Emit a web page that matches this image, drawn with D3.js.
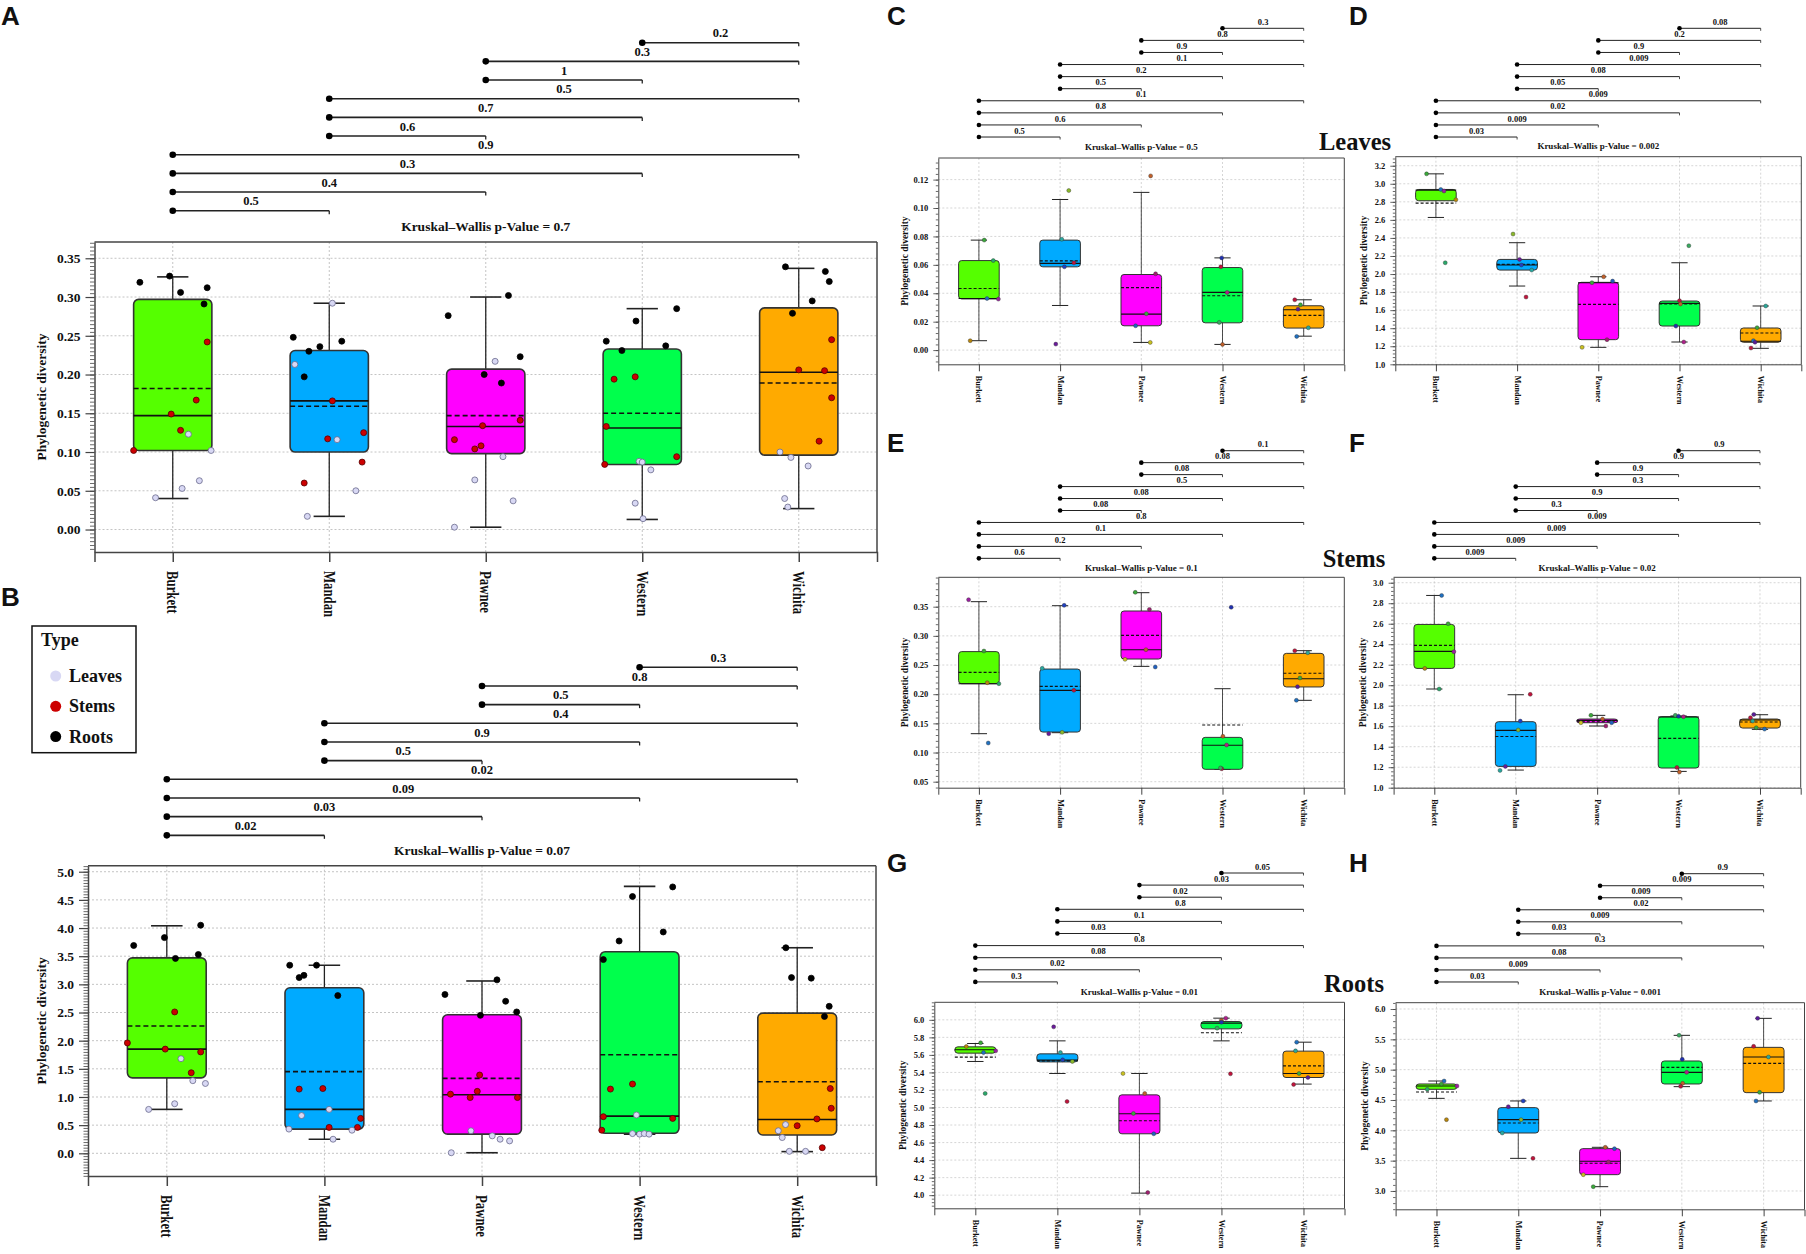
<!DOCTYPE html>
<html>
<head>
<meta charset="utf-8">
<script src="https://cdnjs.cloudflare.com/ajax/libs/d3/7.8.5/d3.min.js"></script>
<style>
body { margin: 0; background: #fff; }
svg text { font-family: "Liberation Serif", "Times New Roman", serif; font-weight: bold; fill: #111; }
</style>
</head>
<body>
<svg id="fig" width="1806" height="1254"></svg>
<script>
// ---- data ----
const sites = ["Burkett", "Mandan", "Pawnee", "Western", "Wichita"];
const tissues = ["Leaves", "Stems", "Roots"];
// pairwise comparisons, top bracket first
const pairs = [[3,4],[2,4],[2,3],[1,4],[1,3],[1,2],[0,4],[0,3],[0,2],[0,1]];

const pairPA = ["0.2","0.3","1","0.5","0.7","0.6","0.9","0.3","0.4","0.5"];
const pairPB = ["0.3","0.8","0.5","0.4","0.9","0.5","0.02","0.09","0.03","0.02"];
const pairPC = ["0.3","0.8","0.9","0.1","0.2","0.5","0.1","0.8","0.6","0.5"];
const pairPD = ["0.08","0.2","0.9","0.009","0.08","0.05","0.009","0.02","0.009","0.03"];
const pairPE = ["0.1","0.08","0.08","0.5","0.08","0.08","0.8","0.1","0.2","0.6"];
const pairPF = ["0.9","0.9","0.9","0.3","0.9","0.3","0.009","0.009","0.009","0.009"];
const pairPG = ["0.05","0.03","0.02","0.8","0.1","0.03","0.8","0.08","0.02","0.3"];
const pairPH = ["0.9","0.009","0.009","0.02","0.009","0.03","0.3","0.08","0.009","0.03"];

const kruskal = ["0.7","0.07","0.5","0.002","0.1","0.02","0.01","0.001"];

// box stats per site: [q1, median, q3, mean, whiskerLow, whiskerHigh]
const boxA = [[0.102,0.147,0.297,0.182,0.040,0.326],[0.100,0.166,0.231,0.159,0.017,0.292],[0.098,0.133,0.207,0.147,0.003,0.300],[0.084,0.131,0.233,0.150,0.013,0.285],[0.096,0.203,0.286,0.189,0.027,0.337]];
const boxB = [[1.34,1.85,3.47,2.26,0.78,4.04],[0.43,0.78,2.94,1.45,0.25,3.34],[0.34,1.04,2.46,1.33,0.01,3.06],[0.355,0.66,3.58,1.75,0.34,4.74],[0.325,0.60,2.49,1.27,0.03,3.65]];
const boxC = [[0.036,0.0363,0.063,0.0434,0.0066,0.0774],[0.0586,0.061,0.0774,0.0628,0.0314,0.106],[0.0171,0.0253,0.0532,0.044,0.0054,0.111],[0.0192,0.0406,0.0581,0.0382,0.004,0.0649],[0.0155,0.0284,0.0312,0.0244,0.0098,0.0354]];
const boxD = [[2.812,2.93,2.937,2.786,2.627,3.11],[2.044,2.10,2.162,2.107,1.867,2.347],[1.273,1.904,1.908,1.664,1.188,1.97],[1.424,1.675,1.701,1.668,1.247,2.125],[1.244,1.255,1.402,1.347,1.177,1.646]];
const boxE = [[0.218,0.218,0.273,0.2374,0.1323,0.3586],[0.1351,0.2066,0.2431,0.2134,0.134,0.3517],[0.2603,0.2763,0.3426,0.3009,0.2477,0.374],[0.0712,0.1124,0.126,0.1472,0.071,0.2094],[0.2124,0.2266,0.27,0.2358,0.1895,0.2746]];
const boxF = [[2.164,2.33,2.593,2.389,1.963,2.876],[1.208,1.559,1.644,1.50,1.172,1.907],[1.634,1.657,1.670,1.644,1.602,1.706],[1.192,1.69,1.693,1.481,1.159,1.70],[1.582,1.66,1.670,1.641,1.569,1.712]];
const boxG = [[5.62,5.658,5.692,5.574,5.525,5.73],[5.52,5.54,5.612,5.532,5.388,5.76],[4.70,4.928,5.144,4.848,4.023,5.388],[5.897,5.962,5.981,5.852,5.76,6.019],[5.342,5.388,5.643,5.475,5.267,5.745]];
const boxH = [[4.676,4.731,4.764,4.632,4.527,4.813],[3.956,4.176,4.374,4.121,3.538,4.484],[3.269,3.489,3.698,3.456,3.071,3.72],[4.764,4.956,5.143,5.038,4.72,5.566],[4.621,5.209,5.368,5.104,4.484,5.846]];

// points: [site, tissue (A,B) or sample (C-H), jitter in bands, value]
const ptsA = [
  [0,2,-0.21,0.319],[0,2,-0.02,0.327],[0,2,0.05,0.306],[0,2,0.22,0.312],[0,2,0.20,0.291],
  [0,1,0.22,0.242],[0,1,0.15,0.167],[0,1,-0.01,0.149],[0,1,0.05,0.128],[0,1,-0.25,0.102],
  [0,0,0.10,0.123],[0,0,0.245,0.102],[0,0,0.17,0.063],[0,0,0.06,0.053],[0,0,-0.11,0.041],
  [1,2,-0.23,0.248],[1,2,-0.13,0.230],[1,2,-0.06,0.236],[1,2,0.08,0.243],[1,2,-0.16,0.197],
  [1,1,0.02,0.166],[1,1,-0.01,0.117],[1,1,0.22,0.125],[1,1,0.21,0.087],[1,1,-0.16,0.060],
  [1,0,0.02,0.292],[1,0,-0.22,0.213],[1,0,0.05,0.116],[1,0,0.17,0.050],[1,0,-0.14,0.017],
  [2,2,-0.24,0.276],[2,2,0.145,0.302],[2,2,0.22,0.223],[2,2,-0.01,0.200],[2,2,0.10,0.189],
  [2,1,0.22,0.141],[2,1,-0.02,0.134],[2,1,-0.20,0.116],[2,1,-0.03,0.108],[2,1,-0.07,0.104],
  [2,0,0.06,0.217],[2,0,0.11,0.094],[2,0,-0.07,0.064],[2,0,0.175,0.037],[2,0,-0.20,0.003],
  [3,2,0.22,0.285],[3,2,-0.04,0.269],[3,2,-0.23,0.243],[3,2,-0.13,0.231],[3,2,0.15,0.237],
  [3,1,-0.18,0.194],[3,1,-0.045,0.197],[3,1,-0.23,0.133],[3,1,0.22,0.094],[3,1,-0.24,0.084],
  [3,0,-0.02,0.088],[3,0,0.0,0.087],[3,0,0.055,0.077],[3,0,-0.045,0.034],[3,0,0.005,0.014],
  [4,2,-0.085,0.339],[4,2,0.17,0.333],[4,2,0.195,0.320],[4,2,0.086,0.295],[4,2,-0.04,0.279],
  [4,1,0.21,0.245],[4,1,0.0,0.206],[4,1,0.165,0.205],[4,1,0.21,0.170],[4,1,0.13,0.114],
  [4,0,-0.12,0.100],[4,0,-0.05,0.093],[4,0,0.06,0.082],[4,0,-0.09,0.040],[4,0,-0.07,0.029]
];
const ptsB = [
  [0,2,-0.21,3.69],[0,2,-0.015,3.83],[0,2,0.215,4.05],[0,2,0.2,3.53],[0,2,0.055,3.46],
  [0,1,0.05,2.51],[0,1,-0.25,1.96],[0,1,-0.01,1.85],[0,1,0.215,1.80],[0,1,0.155,1.43],
  [0,0,0.09,1.68],[0,0,0.165,1.29],[0,0,0.245,1.24],[0,0,0.05,0.88],[0,0,-0.115,0.78],
  [1,2,-0.22,3.34],[1,2,-0.05,3.34],[1,2,-0.16,3.12],[1,2,-0.13,3.16],[1,2,0.085,2.80],
  [1,1,-0.16,1.14],[1,1,-0.01,1.15],[1,1,0.23,0.62],[1,1,0.21,0.46],[1,1,0.03,0.46],
  [1,0,0.03,0.78],[1,0,-0.145,0.67],[1,0,-0.225,0.43],[1,0,0.175,0.41],[1,0,0.055,0.25],
  [2,2,-0.235,2.82],[2,2,0.095,3.08],[2,2,0.15,2.70],[2,2,0.22,2.51],[2,2,-0.01,2.45],
  [2,1,-0.015,1.39],[2,1,-0.2,1.05],[2,1,-0.03,1.10],[2,1,-0.075,0.99],[2,1,0.225,0.99],
  [2,0,-0.07,0.40],[2,0,0.065,0.31],[2,0,0.115,0.25],[2,0,0.175,0.22],[2,0,-0.195,0.01],
  [3,2,0.21,4.73],[3,2,-0.045,4.56],[3,2,0.15,3.93],[3,2,-0.13,3.77],[3,2,-0.23,3.44],
  [3,1,-0.185,1.14],[3,1,-0.045,1.23],[3,1,-0.23,0.65],[3,1,0.21,0.62],[3,1,-0.24,0.41],
  [3,0,-0.02,0.68],[3,0,-0.045,0.35],[3,0,0.0,0.34],[3,0,0.03,0.35],[3,0,0.06,0.34],
  [4,2,-0.072,3.65],[4,2,-0.036,3.12],[4,2,0.089,3.11],[4,2,0.203,2.61],[4,2,0.173,2.43],
  [4,1,0.21,1.15],[4,1,0.216,0.80],[4,1,0.125,0.61],[4,1,0.0,0.49],[4,1,0.159,0.10],
  [4,0,-0.074,0.51],[4,0,-0.12,0.40],[4,0,-0.095,0.28],[4,0,-0.05,0.035],[4,0,0.053,0.035]
];
const ptsC = [
  [0,0,0.066,0.0774],[0,1,0.177,0.063],[0,2,0.1,0.0363],[0,3,0.24,0.0359],[0,4,-0.107,0.0066],
  [1,0,0.107,0.1123],[1,1,0.02,0.078],[1,2,0.17,0.0614],[1,3,0.053,0.0586],[1,4,-0.053,0.0042],
  [2,0,0.115,0.1226],[2,1,0.176,0.0537],[2,2,0.062,0.0256],[2,3,-0.07,0.0171],[2,4,0.11,0.0054],
  [3,0,-0.01,0.0649],[3,1,-0.02,0.0586],[3,2,0.057,0.0406],[3,3,-0.04,0.0195],[3,4,0,0.004],
  [4,0,-0.11,0.0354],[4,1,-0.04,0.0319],[4,2,-0.07,0.0288],[4,3,0.057,0.0157],[4,4,-0.086,0.0096]
];
const ptsD = [
  [0,0,-0.115,3.11],[0,2,0.06,2.937],[0,3,0.1,2.92],[0,4,0.246,2.823],[0,1,0.115,2.125],
  [1,0,-0.05,2.443],[1,4,0.03,2.162],[1,3,0.053,2.10],[1,1,0.18,2.044],[1,2,0.11,1.745],
  [2,0,0.066,1.97],[2,2,-0.078,1.904],[2,3,0.176,1.922],[2,1,0.107,1.273],[2,4,-0.2,1.188],
  [3,3,0.115,2.314],[3,1,0,1.705],[3,4,0.012,1.668],[3,0,-0.045,1.424],[3,2,0.053,1.247],
  [4,3,0.062,1.646],[4,1,-0.045,1.406],[4,4,-0.09,1.262],[4,2,-0.07,1.244],[4,0,-0.12,1.18]
];
const ptsE = [
  [0,3,-0.127,0.362],[0,0,0.062,0.274],[0,4,0.103,0.2197],[0,1,0.246,0.218],[0,2,0.115,0.1163],
  [1,3,0.05,0.3523],[1,1,-0.22,0.2443],[1,2,0.17,0.2066],[1,0,0.025,0.1346],[1,4,-0.14,0.1323],
  [2,2,-0.074,0.3746],[2,1,0.1,0.3454],[2,0,0.057,0.2763],[2,4,-0.2,0.2597],[2,3,0.172,0.2466],
  [3,0,0.107,0.349],[3,4,0.005,0.1278],[3,2,0.05,0.1129],[3,1,-0.01,0.0723],[3,3,-0.025,0.0735],
  [4,0,-0.11,0.2746],[4,3,0.05,0.2711],[4,1,-0.046,0.2278],[4,2,-0.076,0.2129],[4,4,-0.09,0.1895]
];
const ptsF = [
  [0,2,0.09,2.876],[0,0,0.17,2.6],[0,3,0.24,2.327],[0,4,-0.117,2.164],[0,1,0.06,1.963],
  [1,2,0.178,1.911],[1,3,0.056,1.65],[1,0,0.03,1.563],[1,4,-0.127,1.208],[1,1,-0.193,1.169],
  [2,2,-0.076,1.706],[2,0,0.066,1.67],[2,4,-0.2,1.634],[2,3,0.178,1.634],[2,1,0.107,1.602],
  [3,3,-0.04,1.706],[3,0,0,1.696],[3,2,0.06,1.693],[3,1,-0.02,1.198],[3,4,0.01,1.153],
  [4,2,-0.076,1.715],[4,0,-0.117,1.683],[4,3,-0.09,1.65],[4,1,-0.046,1.585],[4,4,0.056,1.572]
];
const ptsG = [
  [0,0,0.065,5.738],[0,4,-0.11,5.696],[0,2,0.1,5.627],[0,3,0.248,5.646],[0,1,0.12,5.16],
  [1,4,-0.045,5.92],[1,1,0.037,5.627],[1,3,0.065,5.544],[1,0,0.183,5.525],[1,2,0.118,5.068],
  [2,4,-0.2,5.388],[2,0,0.065,5.16],[2,2,-0.073,4.932],[2,3,0.175,4.70],[2,1,0.102,4.03],
  [3,2,0.053,6.019],[3,4,0,5.996],[3,0,0,5.973],[3,3,-0.053,5.905],[3,1,0.11,5.384],
  [4,4,-0.083,5.745],[4,3,-0.097,5.646],[4,1,-0.054,5.388],[4,2,0.054,5.342],[4,0,-0.12,5.262]
];
const ptsH = [
  [0,2,0.093,4.813],[0,0,0.06,4.764],[0,3,0.25,4.731],[0,1,-0.113,4.676],[0,4,0.122,4.176],
  [1,3,0.06,4.484],[1,4,-0.122,4.39],[1,0,0.034,4.176],[1,1,-0.196,3.956],[1,2,0.18,3.538],
  [2,0,0.064,3.72],[2,3,0.176,3.698],[2,1,0.103,3.478],[2,4,-0.205,3.269],[2,2,-0.083,3.071],
  [3,3,-0.034,5.566],[3,0,0.005,5.17],[3,2,0.059,4.956],[3,4,0.01,4.775],[3,1,-0.015,4.725],
  [4,2,-0.073,5.846],[4,0,-0.122,5.385],[4,3,0.059,5.209],[4,1,-0.049,4.626],[4,4,-0.093,4.484]
];

const ticksA = [0, 0.05, 0.10, 0.15, 0.20, 0.25, 0.30, 0.35];
const ticksB = [0, 0.5, 1, 1.5, 2, 2.5, 3, 3.5, 4, 4.5, 5];
const ticksC = [0, 0.02, 0.04, 0.06, 0.08, 0.10, 0.12];
const ticksD = [1.0, 1.2, 1.4, 1.6, 1.8, 2.0, 2.2, 2.4, 2.6, 2.8, 3.0, 3.2];
const ticksE = [0.05, 0.10, 0.15, 0.20, 0.25, 0.30, 0.35];
const ticksF = [1.0, 1.2, 1.4, 1.6, 1.8, 2.0, 2.2, 2.4, 2.6, 2.8, 3.0];
const ticksG = [4.0, 4.2, 4.4, 4.6, 4.8, 5.0, 5.2, 5.4, 5.6, 5.8, 6.0];
const ticksH = [3.0, 3.5, 4.0, 4.5, 5.0, 5.5, 6.0];

// ---- colours ----
const siteColors = ["#55ff00", "#00aaff", "#ff00ff", "#00ff4c", "#ffaa00"];
const tissueColors = ["#d8d8f4", "#cc0000", "#000000"];
const tissueStroke = ["#6a6a8c", "#550000", "#000000"];
const sampleColors = [
  ["#3aa83a", "#2aa86a", "#2070c0", "#9b1fa0", "#b8860b"],
  ["#8ab82a", "#2aa8a0", "#c0143c", "#2040c0", "#6a1b9a"],
  ["#c0602a", "#a01f70", "#3aa83a", "#2060c0", "#c8c020"],
  ["#2030b0", "#c0143c", "#b0208a", "#3aa860", "#c0602a"],
  ["#c0143c", "#3aa83a", "#5a1b9a", "#2aa89a", "#2070c0"]
];

const styleBig = {dot: 3, bdot: 3.3, lw: 1.6, endTick: 3.5, labelFont: 12.5, labelOff: 5.4, kwFont: 13.5,
  tickFont: 13.5, tick: 9, minor: 4.5, minorN: 10, xtick: 10, ytitleFont: 13.5, xlabFont: 16, xlabScale: 0.8,
  xlabOff: 19, rx: 5, boxStroke: 1.6, medW: 1.6, dash: "5,3", gridW: 1, frameW: 1.5};
const styleSmall = {dot: 2, bdot: 2.3, lw: 1, endTick: 2.5, labelFont: 8.5, labelOff: 3.4, kwFont: 9,
  tickFont: 8.5, tick: 5, minor: 2.5, minorN: 5, xtick: 7, ytitleFont: 9.5, xlabFont: 8.5, xlabScale: 0.95,
  xlabOff: 11.5, rx: 3, boxStroke: 1, medW: 1.1, dash: "3,2", gridW: 0.7, frameW: 1};

const panels = [
  {letter: "A", letterAt: [1, 25], big: true, box: boxA, pts: ptsA, p: pairPA, kw: kruskal[0], ticks: ticksA, fmt: ".2f",
   yDomain: [-0.029, 0.371], frame: [94.5, 877, 242, 552], rowTop: 42.7, rowGap: 18.67, kwY: 231, yTitleX: 41},
  {letter: "B", letterAt: [1, 606], big: true, box: boxB, pts: ptsB, p: pairPB, kw: kruskal[1], ticks: ticksB, fmt: ".1f",
   yDomain: [-0.403, 5.107], frame: [88, 876, 865.7, 1176], rowTop: 667.3, rowGap: 18.67, kwY: 854.5, yTitleX: 41},
  {letter: "C", letterAt: [887, 25], box: boxC, pts: ptsC, p: pairPC, kw: kruskal[2], ticks: ticksC, fmt: ".2f",
   yDomain: [-0.010, 0.1352], frame: [938.3, 1344.3, 158, 364.3], rowTop: 28.3, rowGap: 12.08, kwY: 150, yTitleX: 904.5},
  {letter: "D", letterAt: [1349, 25], title: "Leaves", titleAt: [1355, 150], box: boxD, pts: ptsD, p: pairPD, kw: kruskal[3], ticks: ticksD, fmt: ".1f",
   yDomain: [1.0, 3.30], frame: [1395.3, 1801.3, 156.7, 364.3], rowTop: 28.3, rowGap: 12.08, kwY: 149, yTitleX: 1363.7},
  {letter: "E", letterAt: [887, 451.7], box: boxE, pts: ptsE, p: pairPE, kw: kruskal[4], ticks: ticksE, fmt: ".2f",
   yDomain: [0.0397, 0.4004], frame: [938.3, 1344.3, 577.3, 787.7], rowTop: 450.7, rowGap: 11.96, kwY: 570.7, yTitleX: 905.3},
  {letter: "F", letterAt: [1349, 451.7], title: "Stems", titleAt: [1354, 566.7], box: boxF, pts: ptsF, p: pairPF, kw: kruskal[5], ticks: ticksF, fmt: ".1f",
   yDomain: [1.0, 3.053], frame: [1393.6, 1800.7, 577.3, 787.7], rowTop: 450.7, rowGap: 11.96, kwY: 570.7, yTitleX: 1362.7},
  {letter: "G", letterAt: [887, 871.7], box: boxG, pts: ptsG, p: pairPG, kw: kruskal[6], ticks: ticksG, fmt: ".1f",
   yDomain: [3.85, 6.20], frame: [934.3, 1344.5, 1002.3, 1208.3], rowTop: 873, rowGap: 12.1, kwY: 994.7, yTitleX: 903.3},
  {letter: "H", letterAt: [1349, 871.7], title: "Roots", titleAt: [1354, 991.7], box: boxH, pts: ptsH, p: pairPH, kw: kruskal[7], ticks: ticksH, fmt: ".1f",
   yDomain: [2.698, 6.104], frame: [1395.6, 1804.5, 1002.7, 1209.3], rowTop: 873.7, rowGap: 12.03, kwY: 995.3, yTitleX: 1364.6}
];

const svg = d3.select("#fig");
const serif = '"Liberation Serif", "Times New Roman", serif';

function drawPanel(cfg) {
  const st = cfg.big ? styleBig : styleSmall;
  const [x0, x1, y0, y1] = cfg.frame;
  const g = svg.append("g").attr("class", "panel panel-" + cfg.letter);

  const x = d3.scalePoint().domain(sites).range([x0, x1]).padding(0.5);
  const step = x.step();
  const bw = step * 0.5;
  const y = d3.scaleLinear().domain(cfg.yDomain).range([y1, y0]);

  // grid
  g.append("g").selectAll("line").data(cfg.ticks).enter().append("line")
    .attr("x1", x0).attr("x2", x1).attr("y1", d => y(d)).attr("y2", d => y(d))
    .attr("stroke", "#c4c4c4").attr("stroke-width", st.gridW).attr("stroke-dasharray", "2,2");
  g.append("g").selectAll("line").data(sites).enter().append("line")
    .attr("x1", d => x(d)).attr("x2", d => x(d)).attr("y1", y0).attr("y2", y1)
    .attr("stroke", "#c4c4c4").attr("stroke-width", st.gridW).attr("stroke-dasharray", "2,2");

  // frame top / right
  g.append("line").attr("x1", x0).attr("x2", x1).attr("y1", y0).attr("y2", y0)
    .attr("stroke", "#444").attr("stroke-width", st.frameW);
  g.append("line").attr("x1", x1).attr("x2", x1).attr("y1", y0).attr("y2", y1)
    .attr("stroke", "#444").attr("stroke-width", st.frameW);

  // y axis, major + minor
  const majorStep = cfg.ticks[1] - cfg.ticks[0];
  const ms = majorStep / st.minorN;
  const minor = d3.range(Math.ceil(cfg.yDomain[0] / ms - 1e-6), Math.floor(cfg.yDomain[1] / ms + 1e-6) + 1)
    .map(k => k * ms);
  const yMinor = g.append("g").attr("transform", `translate(${x0},0)`)
    .call(d3.axisLeft(y).tickValues(minor).tickSize(st.minor).tickFormat(""));
  yMinor.select(".domain").remove();
  yMinor.selectAll("line").attr("stroke", "#444").attr("stroke-width", 0.8);

  const yAxis = g.append("g").attr("transform", `translate(${x0},0)`)
    .call(d3.axisLeft(y).tickValues(cfg.ticks).tickFormat(d3.format(cfg.fmt))
      .tickSize(st.tick).tickSizeOuter(0).tickPadding(5));
  yAxis.attr("font-family", serif).attr("font-size", st.tickFont);
  yAxis.select(".domain").attr("stroke", "#444").attr("stroke-width", st.frameW);
  yAxis.selectAll("line").attr("stroke", "#444").attr("stroke-width", st.frameW * 0.8);
  yAxis.selectAll("text").attr("fill", "#111").attr("font-weight", "bold");

  // x axis
  const xAxis = g.append("g").attr("transform", `translate(0,${y1})`)
    .call(d3.axisBottom(x).tickSize(st.xtick).tickSizeOuter(st.xtick).tickFormat(""));
  xAxis.select(".domain").attr("stroke", "#444").attr("stroke-width", st.frameW);
  xAxis.selectAll("line").attr("stroke", "#444").attr("stroke-width", st.frameW);

  g.append("g").selectAll("text").data(sites).enter().append("text")
    .attr("transform", d => `translate(${x(d)},${y1 + st.xlabOff}) rotate(90) scale(${st.xlabScale},1)`)
    .attr("text-anchor", "start").attr("dominant-baseline", "central")
    .attr("font-size", st.xlabFont).text(d => d);

  // y title
  g.append("text")
    .attr("transform", `translate(${cfg.yTitleX},${(y0 + y1) / 2}) rotate(-90)`)
    .attr("text-anchor", "middle").attr("dominant-baseline", "central")
    .attr("font-size", st.ytitleFont).text("Phylogenetic diversity");

  // boxes
  const boxes = g.append("g").selectAll("g").data(cfg.box).enter().append("g");
  const cx = (d, i) => x(sites[i]);
  boxes.append("line")
    .attr("x1", cx).attr("x2", cx).attr("y1", d => y(d[4])).attr("y2", d => y(d[5]))
    .attr("stroke", "#222").attr("stroke-width", st.lw * 0.8);
  boxes.append("line")
    .attr("x1", (d, i) => cx(d, i) - bw * 0.2).attr("x2", (d, i) => cx(d, i) + bw * 0.2)
    .attr("y1", d => y(d[5])).attr("y2", d => y(d[5]))
    .attr("stroke", "#222").attr("stroke-width", st.lw);
  boxes.append("line")
    .attr("x1", (d, i) => cx(d, i) - bw * 0.2).attr("x2", (d, i) => cx(d, i) + bw * 0.2)
    .attr("y1", d => y(d[4])).attr("y2", d => y(d[4]))
    .attr("stroke", "#222").attr("stroke-width", st.lw);
  boxes.append("rect")
    .attr("x", (d, i) => cx(d, i) - bw / 2).attr("width", bw)
    .attr("y", d => y(d[2])).attr("height", d => Math.max(1, y(d[0]) - y(d[2])))
    .attr("rx", st.rx).attr("ry", st.rx)
    .attr("fill", (d, i) => siteColors[i]).attr("stroke", "#333").attr("stroke-width", st.boxStroke);
  boxes.append("line")
    .attr("x1", (d, i) => cx(d, i) - bw / 2).attr("x2", (d, i) => cx(d, i) + bw / 2)
    .attr("y1", d => y(d[1])).attr("y2", d => y(d[1]))
    .attr("stroke", "#111").attr("stroke-width", st.medW);
  boxes.append("line")
    .attr("x1", (d, i) => cx(d, i) - bw / 2).attr("x2", (d, i) => cx(d, i) + bw / 2)
    .attr("y1", d => y(d[3])).attr("y2", d => y(d[3]))
    .attr("stroke", "#111").attr("stroke-width", st.medW).attr("stroke-dasharray", st.dash);

  // points
  g.append("g").selectAll("circle").data(cfg.pts).enter().append("circle")
    .attr("cx", d => x(sites[d[0]]) + d[2] * step)
    .attr("cy", d => y(d[3]))
    .attr("r", st.dot)
    .attr("fill", d => cfg.big ? tissueColors[d[1]] : sampleColors[d[0]][d[1]])
    .attr("stroke", d => cfg.big ? tissueStroke[d[1]] : "#333")
    .attr("stroke-width", cfg.big ? 0.8 : 0.4);

  // pairwise brackets
  const br = g.append("g").selectAll("g").data(pairs).enter().append("g");
  const rowY = (d, i) => cfg.rowTop + i * cfg.rowGap;
  br.append("line")
    .attr("x1", d => x(sites[d[0]])).attr("x2", d => x(sites[d[1]]))
    .attr("y1", rowY).attr("y2", rowY)
    .attr("stroke", "#222").attr("stroke-width", st.lw);
  br.append("line")
    .attr("x1", d => x(sites[d[1]])).attr("x2", d => x(sites[d[1]]))
    .attr("y1", rowY).attr("y2", (d, i) => rowY(d, i) + st.endTick)
    .attr("stroke", "#222").attr("stroke-width", st.lw * 0.8);
  br.append("circle")
    .attr("cx", d => x(sites[d[0]])).attr("cy", rowY).attr("r", st.bdot).attr("fill", "#000");
  br.append("text")
    .attr("x", d => (x(sites[d[0]]) + x(sites[d[1]])) / 2)
    .attr("y", (d, i) => rowY(d, i) - st.labelOff)
    .attr("text-anchor", "middle").attr("font-size", st.labelFont)
    .text((d, i) => cfg.p[i]);

  g.append("text").attr("x", x(sites[2])).attr("y", cfg.kwY)
    .attr("text-anchor", "middle").attr("font-size", st.kwFont)
    .text("Kruskal\u2013Wallis p-Value = " + cfg.kw);

  // panel letter and tissue title
  g.append("text").attr("x", cfg.letterAt[0]).attr("y", cfg.letterAt[1])
    .style("font-family", '"Liberation Sans", Arial, sans-serif')
    .attr("font-size", 26).text(cfg.letter);
  if (cfg.title) {
    g.append("text").attr("x", cfg.titleAt[0]).attr("y", cfg.titleAt[1])
      .attr("text-anchor", "middle").attr("font-size", 24.5).text(cfg.title);
  }
}

panels.forEach(drawPanel);

// legend of panel B
const legend = svg.append("g").attr("class", "legend");
legend.append("rect").attr("x", 32).attr("y", 626).attr("width", 104).attr("height", 126.7)
  .attr("fill", "#fff").attr("stroke", "#111").attr("stroke-width", 1.5);
legend.append("text").attr("x", 41).attr("y", 646).attr("font-size", 18).text("Type");
const items = legend.selectAll("g.item").data(tissues).enter().append("g").attr("class", "item")
  .attr("transform", (d, i) => `translate(0,${676 + i * 30.3})`);
items.append("circle").attr("cx", 55.7).attr("cy", 0).attr("r", 5.5)
  .attr("fill", (d, i) => tissueColors[i]);
items.append("text").attr("x", 69).attr("y", 6).attr("font-size", 18).text(d => d);
</script>
</body>
</html>
